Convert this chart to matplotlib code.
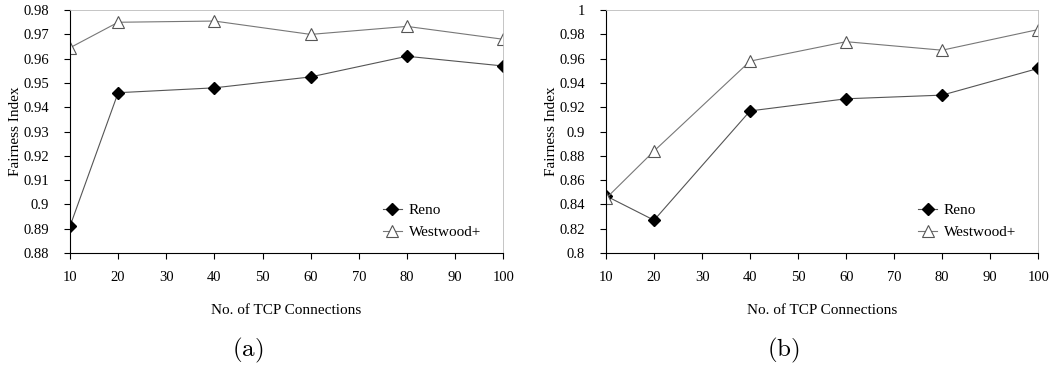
import matplotlib
matplotlib.use("Agg")
import matplotlib.pyplot as plt

plt.rcParams['font.family'] = ['Liberation Serif', 'DejaVu Serif']
plt.rcParams['mathtext.fontset'] = 'cm'

conns = [10, 20, 40, 60, 80, 100]
xticks = [10, 20, 30, 40, 50, 60, 70, 80, 90, 100]

reno_a = [0.891, 0.946, 0.948, 0.9525, 0.961, 0.957]
west_a = [0.9645, 0.975, 0.9755, 0.970, 0.9733, 0.968]
yticks_a = [0.88, 0.89, 0.90, 0.91, 0.92, 0.93, 0.94, 0.95, 0.96, 0.97, 0.98]
ylabels_a = ['0.88', '0.89', '0.9', '0.91', '0.92', '0.93', '0.94', '0.95', '0.96', '0.97', '0.98']

reno_b = [0.847, 0.827, 0.917, 0.927, 0.930, 0.952]
west_b = [0.845, 0.884, 0.958, 0.974, 0.967, 0.984]
yticks_b = [0.80, 0.82, 0.84, 0.86, 0.88, 0.90, 0.92, 0.94, 0.96, 0.98, 1.0]
ylabels_b = ['0.8', '0.82', '0.84', '0.86', '0.88', '0.9', '0.92', '0.94', '0.96', '0.98', '1']

fig = plt.figure(figsize=(10.54, 3.68), dpi=100)
ax1 = fig.add_axes([0.0664, 0.3125, 0.411, 0.660])
ax2 = fig.add_axes([0.575, 0.3125, 0.410, 0.660])


def draw(ax, reno, west, yt, yl, tag):
    ax.plot(conns, reno, color='#555555', lw=0.8, marker='D', ms=6,
            mfc='black', mec='black', label='Reno')
    ax.plot(conns, west, color='#777777', lw=0.8, marker='^', ms=8,
            mfc='white', mec='#555555', mew=0.8, label='Westwood+')
    ax.set_xlim(10, 100)
    ax.set_ylim(yt[0], yt[-1])
    ax.set_xticks(xticks)
    ax.set_yticks(yt)
    ax.set_yticklabels(yl)
    ax.tick_params(labelsize=10.5, length=4, width=0.8, direction='out')
    ax.tick_params(axis='x', pad=9)
    ax.tick_params(axis='y', pad=11)
    for s in ['top', 'right']:
        ax.spines[s].set_color('#bbbbbb')
        ax.spines[s].set_linewidth(0.6)
    for s in ['left', 'bottom']:
        ax.spines[s].set_linewidth(0.8)
    ax.set_ylabel('Fairness Index', fontsize=11, labelpad=1)
    ax.set_xlabel('No. of TCP Connections', fontsize=11, labelpad=14)
    ax.legend(loc='lower right', frameon=False, fontsize=11,
              bbox_to_anchor=(0.98, 0.0), handlelength=1.3,
              handletextpad=0.4, labelspacing=0.55)
    ax.text(0.41, -0.40, r'$\mathrm{(' + tag + r')}$', transform=ax.transAxes,
            ha='center', va='center', fontsize=18)


draw(ax1, reno_a, west_a, yticks_a, ylabels_a, 'a')
draw(ax2, reno_b, west_b, yticks_b, ylabels_b, 'b')

fig.savefig('out.png', dpi=100)
